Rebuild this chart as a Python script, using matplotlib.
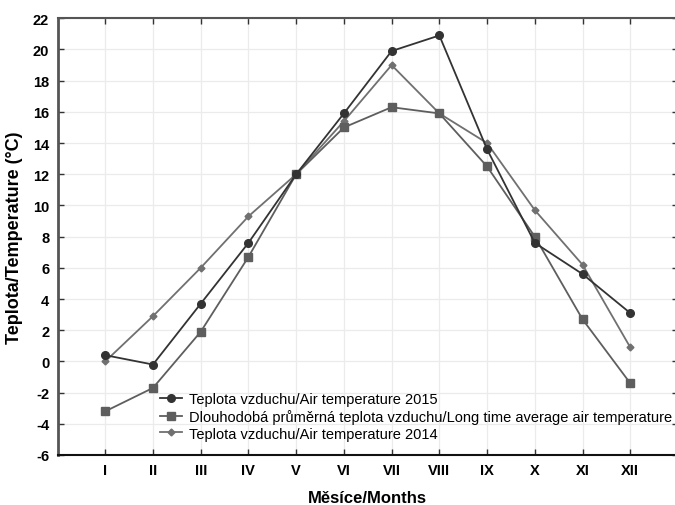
import matplotlib.pyplot as plt

plt.rcParams['font.family'] = ['Liberation Sans', 'DejaVu Sans']
plt.rcParams['axes.unicode_minus'] = False

months = ['I', 'II', 'III', 'IV', 'V', 'VI', 'VII', 'VIII', 'IX', 'X', 'XI', 'XII']
t2015 = [0.4, -0.2, 3.7, 7.6, 12.0, 15.9, 19.9, 20.9, 13.6, 7.6, 5.6, 3.1]
t_avg = [-3.2, -1.7, 1.9, 6.7, 12.0, 15.0, 16.3, 15.9, 12.5, 8.0, 2.7, -1.4]
t2014 = [0.0, 2.9, 6.0, 9.3, 12.0, 15.4, 19.0, 15.9, 14.0, 9.7, 6.2, 0.9]
y_ticks = list(range(-6, 23, 2))

fig = plt.figure(figsize=(6.75, 5.06), dpi=100)
W, H = 675, 506
ax = fig.add_axes([57.5 / W, (H - 456) / H, 620.5 / W, (456 - 19.3) / H])

x = list(range(1, 13))
ax.plot(x, t2015, color='#333333', lw=1.3, marker='o', ms=5.5,
        label='Teplota vzduchu/Air temperature 2015', zorder=5)
ax.plot(x, t_avg, color='#5e5e5e', lw=1.3, marker='s', ms=5.5,
        label='Dlouhodobá průměrná teplota vzduchu/Long time average air temperature', zorder=4)
ax.plot(x, t2014, color='#707070', lw=1.3, marker='D', ms=3.5,
        label='Teplota vzduchu/Air temperature 2014', zorder=3)

ax.set_xlim(0, 13)
ax.set_ylim(-6, 22)
ax.set_xticks(x)
ax.set_xticklabels(months)
ax.set_yticks(y_ticks)
ax.grid(True, color='#ebebeb', lw=0.9)
ax.set_axisbelow(True)

ax.tick_params(direction='in', length=4, width=1, color='#333333',
               top=True, right=True, labelsize=10.5, pad=6)
for lab in ax.get_xticklabels() + ax.get_yticklabels():
    lab.set_fontweight('bold')

ax.spines['left'].set_color('#555555')
ax.spines['left'].set_linewidth(2)
ax.spines['bottom'].set_color('#111111')
ax.spines['bottom'].set_linewidth(1.5)
ax.spines['top'].set_color('#555555')
ax.spines['top'].set_linewidth(1.5)
ax.spines['right'].set_visible(False)

ax.set_xlabel('Měsíce/Months', fontsize=12, fontweight='bold', labelpad=9)
ax.set_ylabel('Teplota/Temperature (°C)', fontsize=13, fontweight='bold', labelpad=7)

ax.legend(loc='center left', bbox_to_anchor=(0.165, 0.089), frameon=False,
          fontsize=10.5, borderpad=0, borderaxespad=0, labelspacing=0.2,
          handlelength=1.55, handletextpad=0.45)

fig.savefig('out.png', dpi=100)
